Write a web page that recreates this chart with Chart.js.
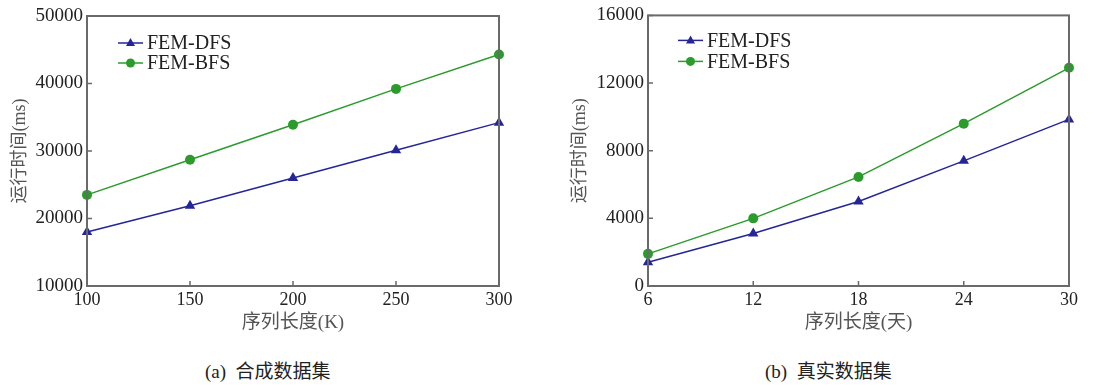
<!DOCTYPE html>
<html>
<head>
<meta charset="utf-8">
<script src="https://cdn.jsdelivr.net/npm/chart.js@4.4.1/dist/chart.umd.min.js"></script>
<style>
  html, body { margin: 0; padding: 0; background: #fff; }
  #wrap { position: relative; width: 1107px; height: 387px; overflow: hidden; }
  .box { position: absolute; top: 0; width: 540px; height: 345px; }
  .cap { position: absolute; top: 360px; font: 19px "Liberation Serif", "Noto Sans CJK SC", serif; color: #222; white-space: pre; line-height: 24px; }
</style>
</head>
<body>
<div id="wrap">
  <div class="box" style="left:0"><canvas id="chartA"></canvas></div>
  <div class="box" style="left:555px"><canvas id="chartB"></canvas></div>
  <div class="cap" id="capA" style="left:205px">(a)  合成数据集</div>
  <div class="cap" id="capB" style="left:765px">(b)  真实数据集</div>
</div>
<script>
// ---- data: (a) synthetic dataset ----
const lenA = ['100', '150', '200', '250', '300'];
const dfsA = [18000, 21900, 26000, 30100, 34200];
const bfsA = [23500, 28700, 33900, 39200, 44300];
const yTicksA = [10000, 20000, 30000, 40000, 50000];

// ---- data: (b) real dataset ----
const lenB = ['6', '12', '18', '24', '30'];
const dfsB = [1400, 3100, 5000, 7400, 9850];
const bfsB = [1900, 4000, 6450, 9600, 12900];
const yTicksB = [0, 4000, 8000, 12000, 16000];

const seriesNames = ['FEM-DFS', 'FEM-BFS'];
const BLUE = '#25259a';
const GREEN = '#2b9b2b';
const SERIF = '"Liberation Serif", "Noto Sans CJK SC", serif';

// frame + inward ticks + inner legend
const framePlugin = {
    id: 'frame',
    afterDraw(chart, args, opts) {
        const ctx = chart.ctx;
        const a = chart.chartArea;
        const xs = chart.scales.x, ys = chart.scales.y;
        ctx.save();
        ctx.strokeStyle = '#6a6a6a';
        ctx.lineWidth = 1.5;
        // inward tick marks on bottom and left
        ctx.beginPath();
        xs.ticks.forEach((t, i) => {
            const px = xs.getPixelForTick(i);
            ctx.moveTo(px, a.bottom);
            ctx.lineTo(px, a.bottom - 5);
        });
        ys.ticks.forEach((t, i) => {
            const py = ys.getPixelForTick(i);
            ctx.moveTo(a.left, py);
            ctx.lineTo(a.left + 5, py);
        });
        ctx.stroke();
        ctx.lineWidth = 2;
        ctx.strokeRect(a.left, a.top, a.right - a.left, a.bottom - a.top);

        // legend
        ctx.font = '20px ' + SERIF;
        ctx.textBaseline = 'middle';
        chart.data.datasets.forEach((ds, i) => {
            const x0 = a.left + opts.dx;
            const y = a.top + opts.dy + i * opts.gap;
            ctx.strokeStyle = ds.borderColor;
            ctx.lineWidth = 1.5;
            ctx.beginPath();
            ctx.moveTo(x0, y);
            ctx.lineTo(x0 + 25, y);
            ctx.stroke();
            ctx.fillStyle = ds.borderColor;
            ctx.beginPath();
            const cx = x0 + 12.5;
            if (ds.pointStyle === 'triangle') {
                ctx.moveTo(cx, y - 5);
                ctx.lineTo(cx + 4.5, y + 3);
                ctx.lineTo(cx - 4.5, y + 3);
                ctx.closePath();
            } else {
                ctx.arc(cx, y, 4.5, 0, Math.PI * 2);
            }
            ctx.fill();
            ctx.fillStyle = '#222';
            ctx.fillText(ds.label, x0 + 29, y + 1);
        });
        ctx.restore();
    }
};

function makeChart(id, labels, dfs, bfs, yTicks, cfg) {
    const ctx = document.getElementById(id).getContext('2d');
    return new Chart(ctx, {
        type: 'line',
        data: {
            labels: labels,
            datasets: [
                {
                    label: seriesNames[0],
                    data: dfs,
                    borderColor: BLUE,
                    backgroundColor: BLUE,
                    borderWidth: 1.5,
                    pointStyle: 'triangle',
                    pointRadius: 6,
                    pointBorderWidth: 0,
                    tension: 0
                },
                {
                    label: seriesNames[1],
                    data: bfs,
                    borderColor: GREEN,
                    backgroundColor: GREEN,
                    borderWidth: 1.5,
                    pointStyle: 'circle',
                    pointRadius: 5,
                    pointBorderWidth: 0,
                    tension: 0
                }
            ]
        },
        options: {
            responsive: true,
            maintainAspectRatio: false,
            animation: false,
            layout: {
                padding: { left: 0, top: cfg.padTop, right: cfg.padRight, bottom: 0 }
            },
            plugins: {
                legend: { display: false },
                tooltip: { enabled: false },
                frame: { dx: cfg.legDx, dy: cfg.legDy, gap: cfg.legGap }
            },
            scales: {
                x: {
                    offset: false,
                    grid: { display: false, drawTicks: false },
                    border: { display: false },
                    ticks: {
                        padding: 3,
                        color: '#222',
                        maxRotation: 0,
                        autoSkip: false,
                        font: { family: SERIF, size: 18 }
                    },
                    title: {
                        display: true,
                        text: cfg.xTitle,
                        color: '#555',
                        padding: { top: 0, bottom: 11 },
                        font: { family: SERIF, size: 19 }
                    },
                    afterFit: (s) => { s.height = 59; }
                },
                y: {
                    min: yTicks[0],
                    max: yTicks[yTicks.length - 1],
                    afterBuildTicks: (s) => { s.ticks = yTicks.map(v => ({ value: v })); },
                    grid: { display: false, drawTicks: false },
                    border: { display: false },
                    ticks: {
                        padding: 4,
                        color: '#222',
                        font: { family: SERIF, size: 19 },
                        callback: (v) => String(v)
                    },
                    title: {
                        display: true,
                        text: '运行时间(ms)',
                        color: '#555',
                        padding: { top: cfg.yTitlePad, bottom: 0 },
                        font: { family: SERIF, size: 18 }
                    },
                    afterFit: (s) => { s.width = cfg.yWidth; }
                }
            }
        },
        plugins: [framePlugin]
    });
}

makeChart('chartA', lenA, dfsA, bfsA, yTicksA, {
    padTop: 16, padRight: 41, yWidth: 87, yTitlePad: 9,
    xTitle: '序列长度(K)', legDx: 31, legDy: 27, legGap: 20
});
makeChart('chartB', lenB, dfsB, bfsB, yTicksB, {
    padTop: 11, padRight: 26, yWidth: 93, yTitlePad: 14,
    xTitle: '序列长度(天)', legDx: 30, legDy: 25, legGap: 21
});
</script>
</body>
</html>
